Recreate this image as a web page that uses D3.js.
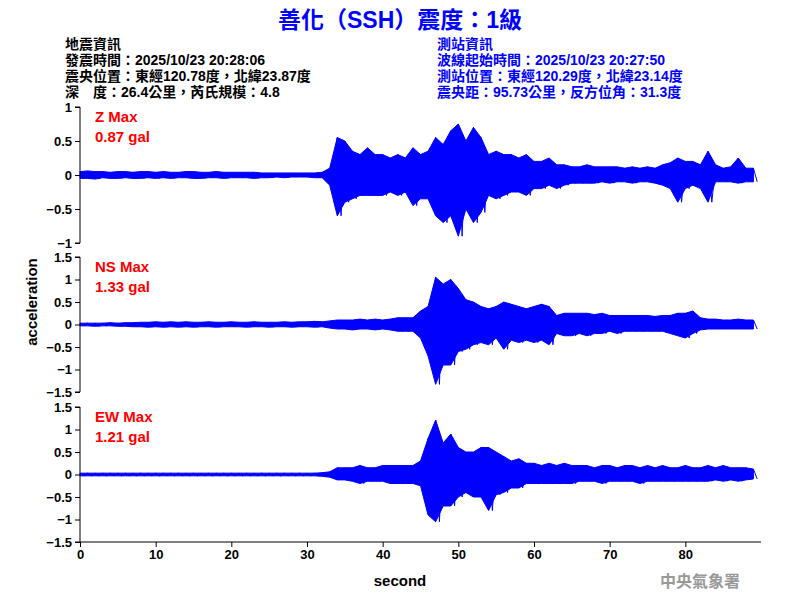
<!DOCTYPE html>
<html>
<head>
<meta charset="utf-8">
<script src="https://cdn.jsdelivr.net/npm/d3@7"></script>
<style>
  body { margin: 0; background: #fff; }
  text { font-family: "Liberation Sans", Arial, "Noto Sans CJK TC", sans-serif; }
  .tick text { font-weight: bold; font-size: 13px; }
</style>
</head>
<body>
<svg id="chart" width="800" height="600"></svg>
<script>
'use strict';

// per-second envelope (gal), index = second
const zHi = [0.05,0.06,0.05,0.05,0.04,0.05,0.05,0.04,0.05,0.05,0.04,0.05,0.04,0.04,0.05,0.05,0.04,0.04,0.05,0.04,0.04,0.04,0.04,0.04,0.03,0.03,0.03,0.03,0.03,0.03,0.03,0.03,0.04,0.1,
  0.55,0.5,0.35,0.3,0.4,0.3,0.3,0.25,0.3,0.25,0.4,0.3,0.35,0.55,0.45,0.65,0.75,0.5,0.7,0.55,0.3,0.35,0.3,0.3,0.25,0.3,0.2,0.2,0.25,0.15,
  0.15,0.12,0.12,0.15,0.12,0.12,0.12,0.12,0.1,0.12,0.1,0.12,0.1,0.15,0.18,0.25,0.2,0.2,0.15,0.35,0.15,0.1,0.12,0.25,0.1,0.1];
const zLo = [-0.05,-0.05,-0.06,-0.04,-0.05,-0.05,-0.04,-0.05,-0.05,-0.04,-0.05,-0.04,-0.05,-0.04,-0.04,-0.05,-0.05,-0.04,-0.04,-0.05,-0.04,-0.04,-0.04,-0.05,-0.04,-0.04,-0.03,-0.04,-0.03,-0.03,-0.03,-0.04,-0.04,-0.15,
  -0.6,-0.4,-0.35,-0.3,-0.3,-0.3,-0.3,-0.25,-0.3,-0.25,-0.45,-0.35,-0.35,-0.6,-0.7,-0.6,-0.9,-0.5,-0.7,-0.55,-0.3,-0.35,-0.3,-0.25,-0.25,-0.3,-0.2,-0.2,-0.15,-0.2,
  -0.15,-0.12,-0.12,-0.12,-0.12,-0.1,-0.12,-0.1,-0.1,-0.12,-0.1,-0.1,-0.12,-0.15,-0.2,-0.4,-0.2,-0.15,-0.2,-0.4,-0.1,-0.1,-0.1,-0.12,-0.1,-0.1];

const nsHi = [0.03,0.03,0.03,0.03,0.04,0.03,0.04,0.04,0.05,0.05,0.06,0.05,0.06,0.05,0.06,0.05,0.05,0.06,0.05,0.05,0.06,0.05,0.05,0.06,0.05,0.05,0.05,0.06,0.05,0.06,0.06,0.07,0.06,0.08,
  0.1,0.1,0.1,0.12,0.1,0.12,0.1,0.12,0.15,0.15,0.15,0.3,0.4,1.05,0.9,1.0,0.8,0.55,0.5,0.4,0.35,0.4,0.5,0.45,0.4,0.35,0.4,0.45,0.4,0.2,
  0.25,0.25,0.25,0.25,0.22,0.25,0.2,0.2,0.2,0.2,0.2,0.2,0.18,0.2,0.2,0.25,0.25,0.3,0.15,0.12,0.12,0.1,0.1,0.12,0.1,0.1];
const nsLo = [-0.03,-0.03,-0.04,-0.03,-0.03,-0.04,-0.04,-0.05,-0.05,-0.06,-0.05,-0.06,-0.05,-0.06,-0.05,-0.06,-0.05,-0.05,-0.06,-0.05,-0.05,-0.05,-0.06,-0.05,-0.05,-0.06,-0.05,-0.05,-0.06,-0.05,-0.05,-0.06,-0.05,-0.08,
  -0.1,-0.1,-0.12,-0.1,-0.1,-0.12,-0.1,-0.12,-0.15,-0.15,-0.15,-0.3,-0.7,-1.33,-0.9,-0.9,-0.6,-0.55,-0.45,-0.4,-0.45,-0.3,-0.55,-0.35,-0.4,-0.35,-0.4,-0.35,-0.45,-0.2,
  -0.25,-0.25,-0.2,-0.25,-0.2,-0.2,-0.15,-0.2,-0.15,-0.15,-0.15,-0.15,-0.15,-0.15,-0.2,-0.25,-0.3,-0.2,-0.12,-0.1,-0.1,-0.1,-0.1,-0.1,-0.1,-0.1];

const ewHi = [0.03,0.03,0.03,0.03,0.03,0.03,0.03,0.03,0.03,0.03,0.03,0.03,0.03,0.03,0.03,0.03,0.03,0.03,0.03,0.03,0.03,0.03,0.03,0.03,0.03,0.03,0.03,0.03,0.03,0.03,0.03,0.03,0.04,0.06,
  0.15,0.15,0.15,0.2,0.15,0.15,0.2,0.2,0.2,0.2,0.2,0.3,0.8,1.21,0.7,0.9,0.6,0.5,0.5,0.6,0.6,0.5,0.4,0.3,0.35,0.25,0.25,0.2,0.25,0.2,
  0.25,0.2,0.2,0.2,0.15,0.2,0.2,0.15,0.2,0.2,0.15,0.2,0.15,0.2,0.15,0.15,0.2,0.15,0.15,0.2,0.15,0.2,0.15,0.15,0.15,0.12];
const ewLo = [-0.03,-0.03,-0.03,-0.03,-0.03,-0.03,-0.03,-0.03,-0.03,-0.03,-0.03,-0.03,-0.03,-0.03,-0.03,-0.03,-0.03,-0.03,-0.03,-0.03,-0.03,-0.03,-0.03,-0.03,-0.03,-0.03,-0.03,-0.03,-0.03,-0.03,-0.03,-0.03,-0.04,-0.06,
  -0.12,-0.12,-0.15,-0.2,-0.15,-0.15,-0.15,-0.2,-0.2,-0.2,-0.2,-0.25,-0.9,-1.05,-0.7,-0.7,-0.5,-0.4,-0.5,-0.5,-0.8,-0.45,-0.4,-0.3,-0.3,-0.2,-0.2,-0.2,-0.2,-0.2,
  -0.2,-0.2,-0.15,-0.15,-0.15,-0.2,-0.15,-0.15,-0.15,-0.15,-0.2,-0.15,-0.15,-0.15,-0.15,-0.15,-0.15,-0.15,-0.15,-0.15,-0.12,-0.15,-0.12,-0.15,-0.12,-0.1];

const xTicks = [0, 10, 20, 30, 40, 50, 60, 70, 80];

const panels = [
    { name: "Z Max",  max: "0.87 gal", hi: zHi,  lo: zLo,  top: 107, bottom: 243, domain: [-1, 1],     ticks: [-1, -0.5, 0, 0.5, 1] },
    { name: "NS Max", max: "1.33 gal", hi: nsHi, lo: nsLo, top: 257, bottom: 392, domain: [-1.5, 1.5], ticks: [-1.5, -1, -0.5, 0, 0.5, 1, 1.5] },
    { name: "EW Max", max: "1.21 gal", hi: ewHi, lo: ewLo, top: 407, bottom: 542, domain: [-1.5, 1.5], ticks: [-1.5, -1, -0.5, 0, 0.5, 1, 1.5] },
];

const quakeInfo = ["地震資訊", "發震時間：2025/10/23 20:28:06", "震央位置：東經120.78度，北緯23.87度", "深　度：26.4公里，芮氏規模：4.8"];
const stationInfo = ["測站資訊", "波線起始時間：2025/10/23 20:27:50", "測站位置：東經120.29度，北緯23.14度", "震央距：95.73公里，反方位角：31.3度"];

const svg = d3.select("#chart");
const x = d3.scaleLinear().domain([0, 90]).range([80, 761]);

// title
svg.append("text").attr("x", 400).attr("y", 28).attr("text-anchor", "middle")
    .attr("fill", "#0000ff").attr("font-size", 23).attr("font-weight", "bold")
    .text("善化（SSH）震度：1級");

// info blocks
quakeInfo.forEach((t, i) => svg.append("text").attr("x", 65).attr("y", 49 + i * 16)
    .attr("font-size", 14).attr("font-weight", "bold").attr("fill", "#000").text(t));
stationInfo.forEach((t, i) => svg.append("text").attr("x", 437).attr("y", 49 + i * 16)
    .attr("font-size", 14).attr("font-weight", "bold").attr("fill", "#0000ff").text(t));

panels.forEach((p) => {
    const y = d3.scaleLinear().domain(p.domain).range([p.bottom, p.top]);
    const rows = p.hi.map((h, i) => ({ t: i, hi: h, lo: p.lo[i] }));

    svg.append("path").datum(rows)
        .attr("fill", "#0000ff").attr("stroke", "#0000ff").attr("stroke-width", 1)
        .attr("d", d3.area().x((d) => x(d.t)).y0((d) => y(d.lo)).y1((d) => y(d.hi)));

    // zigzag on top for spiky texture
    const zig = [];
    rows.forEach((d) => { zig.push([d.t, d.hi]); zig.push([d.t + 0.5, d.lo]); });
    svg.append("path").datum(zig).attr("fill", "none").attr("stroke", "#0000ff").attr("stroke-width", 1)
        .attr("d", d3.line().x((d) => x(d[0])).y((d) => y(d[1])));

    svg.append("g").attr("transform", "translate(80,0)")
        .call(d3.axisLeft(y).tickValues(p.ticks).tickSize(5).tickFormat(d3.format("")))
        .call((g) => g.select(".domain").attr("d", `M-5,${p.top}H0V${p.bottom}H-5`));

    svg.append("text").attr("x", 95).attr("y", p.top + 15).attr("fill", "#ff0000")
        .attr("font-size", 15).attr("font-weight", "bold").text(p.name);
    svg.append("text").attr("x", 95).attr("y", p.top + 35).attr("fill", "#ff0000")
        .attr("font-size", 15).attr("font-weight", "bold").text(p.max);
});

svg.append("g").attr("transform", "translate(0,542)")
    .call(d3.axisBottom(x).tickValues(xTicks).tickSize(5))
    .call((g) => g.select(".domain").attr("d", "M80,0H761"));

svg.selectAll(".tick text").attr("fill", "#000");

svg.append("text").attr("x", 400).attr("y", 586).attr("text-anchor", "middle")
    .attr("font-size", 15).attr("font-weight", "bold").text("second");
svg.append("text").attr("transform", "translate(37,302) rotate(-90)").attr("text-anchor", "middle")
    .attr("font-size", 15).attr("font-weight", "bold").text("acceleration");
svg.append("text").attr("x", 700).attr("y", 587).attr("text-anchor", "middle")
    .attr("font-size", 16).attr("font-weight", "bold").attr("fill", "#999").text("中央氣象署");
</script>
</body>
</html>
